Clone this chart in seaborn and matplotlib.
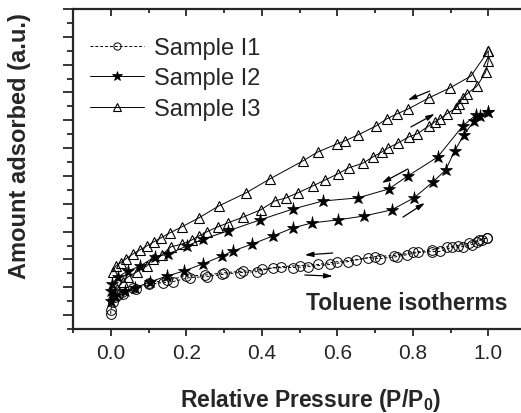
import numpy as np
import pandas as pd
import matplotlib
matplotlib.use("Agg")
import matplotlib.pyplot as plt
from matplotlib.lines import Line2D
from matplotlib.ticker import MultipleLocator
import seaborn as sns

# ---- data (relative pressure, amount adsorbed in a.u.) ----
i1_ads_x = [0.0, 0.0, 0.005, 0.019, 0.032, 0.066, 0.101, 0.138, 0.164, 0.209, 0.254, 0.294,
            0.342, 0.387, 0.429, 0.482, 0.522, 0.580, 0.628, 0.681, 0.713, 0.758, 0.784,
            0.813, 0.850, 0.872, 0.903, 0.932, 0.956, 0.970, 0.983, 0.996]
i1_ads_y = [0.04, 0.18, 0.47, 0.72, 0.76, 0.94, 1.10, 1.17, 1.20, 1.35, 1.38, 1.46,
            1.53, 1.56, 1.70, 1.71, 1.74, 1.82, 1.92, 2.06, 2.03, 2.10, 2.17,
            2.25, 2.28, 2.29, 2.43, 2.46, 2.53, 2.64, 2.71, 2.77]
i1_des_x = [0.996, 0.975, 0.950, 0.920, 0.890, 0.850, 0.800, 0.750, 0.700, 0.650, 0.600,
            0.550, 0.500, 0.450, 0.400, 0.350, 0.300, 0.250, 0.200, 0.150, 0.100, 0.060,
            0.030, 0.010]
i1_des_y = [2.77, 2.70, 2.58, 2.50, 2.45, 2.34, 2.25, 2.14, 2.10, 1.99, 1.92,
            1.82, 1.78, 1.74, 1.64, 1.58, 1.52, 1.44, 1.40, 1.26, 1.14, 0.98,
            0.84, 0.66]

i2_ads_x = [0.0, 0.011, 0.037, 0.064, 0.103, 0.148, 0.193, 0.244, 0.294, 0.323, 0.374,
            0.429, 0.482, 0.532, 0.601, 0.670, 0.744, 0.803, 0.853, 0.887, 0.911, 0.935,
            0.962, 0.977, 0.999]
i2_ads_y = [0.51, 0.69, 0.87, 0.97, 1.19, 1.40, 1.58, 1.84, 2.12, 2.30, 2.55,
            2.84, 3.13, 3.31, 3.42, 3.56, 3.78, 4.21, 4.78, 5.21, 5.90, 6.47,
            6.97, 7.15, 7.30]
i2_des_x = [1.0, 0.967, 0.932, 0.866, 0.787, 0.736, 0.654, 0.562, 0.482, 0.395, 0.310,
            0.244, 0.201, 0.151, 0.117, 0.077, 0.045, 0.019, 0.003, 0.0]
i2_des_y = [7.30, 7.19, 6.79, 5.68, 5.00, 4.53, 4.21, 4.10, 3.81, 3.42, 3.02,
            2.73, 2.48, 2.19, 2.09, 1.76, 1.58, 1.37, 1.12, 0.87]

i3_ads_x = [0.005, 0.016, 0.032, 0.045, 0.069, 0.095, 0.111, 0.135, 0.159, 0.188, 0.215,
            0.233, 0.254, 0.283, 0.310, 0.350, 0.397, 0.434, 0.464, 0.495, 0.535, 0.567,
            0.601, 0.630, 0.668, 0.694, 0.718, 0.734, 0.760, 0.789, 0.811, 0.842, 0.858,
            0.872, 0.890, 0.914, 0.922, 0.932, 0.943, 0.970, 0.993, 1.0, 1.0]
i3_ads_y = [0.75, 0.94, 1.19, 1.37, 1.55, 1.76, 2.02, 2.16, 2.45, 2.55, 2.70,
            2.84, 2.99, 3.17, 3.31, 3.52, 3.78, 4.10, 4.21, 4.39, 4.64, 4.85,
            5.07, 5.29, 5.46, 5.68, 5.86, 6.00, 6.18, 6.40, 6.51, 6.79, 6.94,
            7.05, 7.23, 7.44, 7.58, 7.80, 7.94, 8.23, 8.73, 9.13, 9.49]
i3_des_x = [1.0, 0.954, 0.898, 0.842, 0.787, 0.758, 0.731, 0.702, 0.654, 0.620, 0.599,
            0.548, 0.509, 0.421, 0.358, 0.286, 0.233, 0.188, 0.156, 0.132, 0.114, 0.095,
            0.077, 0.058, 0.040, 0.026, 0.013, 0.005]
i3_des_y = [9.49, 8.59, 8.16, 7.80, 7.40, 7.23, 7.05, 6.79, 6.47, 6.26, 6.15,
            5.86, 5.54, 4.89, 4.39, 3.92, 3.49, 3.17, 2.95, 2.77, 2.63, 2.48,
            2.34, 2.19, 2.02, 1.88, 1.76, 1.55]

labels = ["Sample I1", "Sample I2", "Sample I3"]
xticks = [0.0, 0.2, 0.4, 0.6, 0.8, 1.0]

# arrows: (x_start, y_start, x_end, y_end)
arrows = [
    (0.845, 8.05, 0.787, 7.73), (0.795, 6.76, 0.858, 7.23),
    (0.787, 5.25, 0.718, 4.75), (0.774, 3.52, 0.832, 4.03),
    (0.588, 2.23, 0.514, 2.16), (0.514, 1.44, 0.588, 1.40),
]

sns.set_style("ticks")
plt.rcParams['font.family'] = ['Liberation Sans', 'DejaVu Sans']

fig = plt.figure(figsize=(5.21, 4.14), dpi=100)
ax = fig.add_axes([73 / 521, 84 / 414, (526 - 73) / 521, 320 / 414])

styles = {
    "I1": dict(marker="o", markersize=7, markerfacecolor="none", markeredgecolor="black",
               markeredgewidth=0.7, linestyle="--", dashes=(3, 2)),
    "I2": dict(marker="*", markersize=9.5, markerfacecolor="black", markeredgecolor="black",
               markeredgewidth=0.5, linestyle="-"),
    "I3": dict(marker="^", markersize=7.5, markerfacecolor="none", markeredgecolor="black",
               markeredgewidth=0.8, linestyle="-"),
}

series = [
    ("I1", i1_ads_x, i1_ads_y), ("I1", i1_des_x, i1_des_y),
    ("I2", i2_ads_x, i2_ads_y), ("I2", i2_des_x, i2_des_y),
    ("I3", i3_ads_x, i3_ads_y), ("I3", i3_des_x, i3_des_y),
]
for key, xs, ys in series:
    st = dict(styles[key])
    dashes = st.pop("dashes", None)
    ls = st.pop("linestyle")
    df = pd.DataFrame({"x": xs, "y": ys})
    sns.lineplot(data=df, x="x", y="y", sort=False, estimator=None, ax=ax,
                 color="black", linewidth=0.7, linestyle=ls, legend=False, **st)
    if dashes is not None:
        ax.lines[-1].set_dashes(dashes)

for (xs, ys, xe, ye) in arrows:
    ax.annotate("", xy=(xe, ye), xytext=(xs, ys),
                arrowprops=dict(arrowstyle="-|>,head_length=0.5,head_width=0.15",
                                color="black", lw=0.9, shrinkA=0, shrinkB=0))

ax.set_xlim(-0.1, 1.1)
ax.set_ylim(-0.5, 11.0)
ax.set_xticks(xticks)
ax.set_xticklabels([f"{t:.1f}" for t in xticks], fontsize=15)
ax.xaxis.set_minor_locator(MultipleLocator(0.1))
ax.yaxis.set_major_locator(MultipleLocator(1.0))
ax.yaxis.set_minor_locator(MultipleLocator(0.5))
ax.set_yticklabels([])
ax.tick_params(axis="x", which="both", direction="out", bottom=True, top=True,
               labeltop=False, width=1.3, pad=5)
ax.tick_params(axis="x", which="major", length=5)
ax.tick_params(axis="x", which="minor", length=3)
ax.tick_params(axis="y", which="major", direction="out", length=7, width=1.3, right=False)
ax.tick_params(axis="y", which="minor", direction="out", length=4, width=1.3, right=False)
# top ticks point down into the plot
for t in ax.xaxis.get_major_ticks() + ax.xaxis.get_minor_ticks():
    t.tick2line.set_marker(matplotlib.lines.TICKDOWN)

for sp in ax.spines.values():
    sp.set_linewidth(1.6)
    sp.set_visible(True)
ax.spines["right"].set_visible(False)

ax.set_xlabel("Relative Pressure (P/P$_\\mathregular{0}$)", fontsize=16.5, fontweight="bold")
ax.set_ylabel("Amount adsorbed (a.u.)", fontsize=17, fontweight="bold")
ax.xaxis.set_label_coords((311 - 73) / 453, -(387 - 330) / 320)
ax.yaxis.set_label_coords((31 - 73) / 453, (330 - 146) / 320)

ax.text(1.052, 0.47, "Toluene isotherms", fontsize=16.5, fontweight="bold",
        ha="right", va="center")

handles = [Line2D([], [], color="black", linewidth=0.7, linestyle=(0, (3, 2)),
                  **{k: v for k, v in styles["I1"].items() if k not in ("linestyle", "dashes")}),
           Line2D([], [], color="black", linewidth=0.7,
                  **{k: v for k, v in styles["I2"].items() if k != "linestyle"}),
           Line2D([], [], color="black", linewidth=0.7,
                  **{k: v for k, v in styles["I3"].items() if k != "linestyle"})]
for h in handles:
    h.set_markersize(h.get_markersize() * 0.75)
leg = ax.legend(handles, labels, loc="upper left", bbox_to_anchor=(90 / 521, 1 - 38 / 414),
                bbox_transform=fig.transFigure, frameon=False, fontsize=17,
                handlelength=2.3, handletextpad=0.4, labelspacing=0.36, borderpad=0,
                borderaxespad=0)

fig.savefig("out.png", dpi=100)
